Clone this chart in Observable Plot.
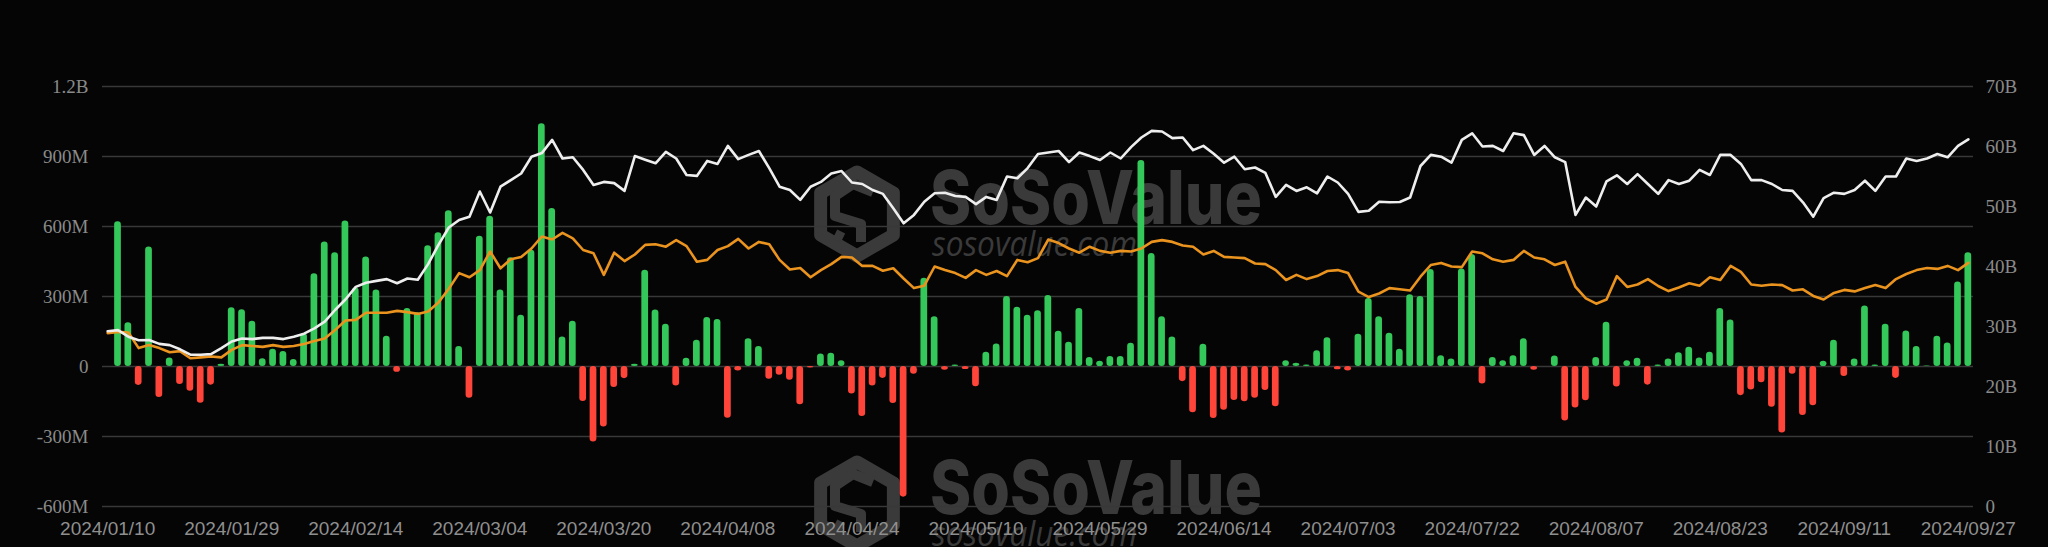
<!DOCTYPE html>
<html><head><meta charset="utf-8">
<script src="https://cdn.jsdelivr.net/npm/d3@7"></script>
<script src="https://cdn.jsdelivr.net/npm/@observablehq/plot@0.6"></script>
<style>
html,body{margin:0;padding:0;background:#050505;}
#wrap{position:relative;width:2048px;height:547px;overflow:hidden;background:#050505;}
#wrap svg{position:absolute;left:0;top:0;overflow:visible;}
</style></head><body><div id="wrap"></div>
<script>
// ---- categories: US trading days 2024/01/10 .. 2024/09/27 ----
const jan = [10,11,12,16,17,18,19,22,23,24,25,26,29,30,31];
const feb = [1,2,5,6,7,8,9,12,13,14,15,16,20,21,22,23,26,27,28,29];
const mar = [1,4,5,6,7,8,11,12,13,14,15,18,19,20,21,22,25,26,27,28];
const apr = [1,2,3,4,5,8,9,10,11,12,15,16,17,18,19,22,23,24,25,26,29,30];
const may = [1,2,3,6,7,8,9,10,13,14,15,16,17,20,21,22,23,24,28,29,30,31];
const jun = [3,4,5,6,7,10,11,12,13,14,17,18,20,21,24,25,26,27,28];
const jul = [1,2,3,5,8,9,10,11,12,15,16,17,18,19,22,23,24,25,26,29,30,31];
const aug = [1,2,5,6,7,8,9,12,13,14,15,16,19,20,21,22,23,26,27,28,29,30];
const sep = [3,4,5,6,9,10,11,12,13,16,17,18,19,20,23,24,25,26,27];
const monthDays = [["01",jan],["02",feb],["03",mar],["04",apr],["05",may],["06",jun],["07",jul],["08",aug],["09",sep]];
const dates = monthDays.flatMap(([m, ds]) => ds.map(d => `2024/${m}/${String(d).padStart(2,"0")}`));

const tickLabels = ["2024/01/10","2024/01/29","2024/02/14","2024/03/04","2024/03/20","2024/04/08","2024/04/24","2024/05/10",
  "2024/05/29","2024/06/14","2024/07/03","2024/07/22","2024/08/07","2024/08/23","2024/09/11","2024/09/27"];
const leftTicks = [-600,-300,0,300,600,900,1200];      // M USD
const rightTicks = [0,10,20,30,40,50,60,70];           // B USD

// Daily total net inflow (M USD)
const netInflow = [
  0,620,188,-81,512,-133,36,-77,-106,-158,-80,10,252,243,194,33,74,64,30,140,
  398,534,488,624,336,469,328,130,-25,249,230,517,573,667,86,-136,558,644,328,466,
  220,498,1040,677,126,194,-150,-324,-259,-90,-52,10,412,242,181,-84,35,112,210,201,
  -222,-19,119,86,-55,-38,-59,-164,-6,54,57,25,-118,-214,-84,-51,-159,-560,-33,378,
  213,-16,6,-13,-87,61,96,300,254,220,239,304,151,104,249,39,22,43,43,100,
  883,484,213,126,-65,-198,95,-223,-188,-146,-151,-136,-103,-173,25,14,6,68,123,-14,
  -19,138,291,213,143,74,307,300,416,46,32,418,480,-75,39,25,46,119,-16,0,
  45,-234,-178,-147,39,190,-88,25,35,-80,6,32,59,83,36,61,249,199,-125,-101,
  -70,-175,-285,-33,-210,-168,22,112,-43,32,259,6,181,-51,152,86,2,130,101,362,
  487
];
// Total net assets (B USD), white line
const totalNetAssets = [
  29.2,29.4,28.3,27.7,27.75,27.1,26.9,26.2,25.3,25.3,25.4,26.4,27.5,28.0,27.9,28.1,28.1,27.9,28.3,28.8,
  29.7,30.8,32.75,34.5,36.6,37.3,37.6,37.9,37.2,38.0,37.8,40.4,43.6,46.5,47.75,48.3,52.5,49.0,53.3,54.4,
  55.5,58.3,58.9,61.1,58.0,58.2,56.1,53.6,54.1,53.9,52.6,58.4,57.8,57.2,59.1,58.0,55.25,55.1,57.6,57.1,
  60.1,57.9,58.6,59.25,56.4,53.3,52.75,51.1,53.3,54.1,55.5,55.9,54.0,53.75,52.75,52.1,49.7,47.2,48.6,50.8,
  52.2,52.3,51.75,51.6,50.4,51.6,51.1,55.0,54.7,56.4,58.75,59.0,59.25,57.4,59.0,58.4,57.75,59.0,58.0,59.9,
  61.5,62.6,62.5,61.4,61.5,59.4,60.1,58.8,57.3,58.3,56.2,56.5,55.6,51.6,53.6,52.6,53.2,52.2,55.0,54.0,
  52.1,49.1,49.3,50.8,50.7,50.75,51.5,56.75,58.6,58.3,57.3,61.1,62.2,60.0,60.1,59.25,62.2,61.9,58.6,60.1,
  58.2,57.4,48.6,51.5,50.0,54.2,55.2,53.75,55.4,53.75,52.1,54.4,53.75,54.3,56.1,55.25,58.6,58.6,57.1,54.4,
  54.4,53.75,52.75,52.6,50.7,48.3,51.4,52.3,52.1,52.75,54.3,52.6,55.0,55.0,58.0,57.6,58.0,58.75,58.2,60.1,
  61.2
];
// Orange series (read on right axis)
const orangeSeries = [
  28.9,29.1,29.0,26.4,26.9,26.4,25.7,25.9,24.7,24.85,25.0,24.85,26.1,26.9,26.75,26.6,26.9,26.6,26.75,27.1,
  27.6,28.0,29.4,31.0,31.1,32.3,32.3,32.3,32.6,32.4,32.1,32.5,34.0,36.3,38.9,38.2,39.4,42.5,39.7,41.2,
  41.6,43.0,45.0,44.5,45.6,44.7,42.75,42.2,38.6,42.3,40.9,42.0,43.6,43.7,43.3,44.4,43.4,40.8,41.1,42.75,
  43.4,44.6,43.0,44.1,43.7,41.1,39.5,39.75,38.2,39.4,40.4,41.6,41.5,40.1,40.1,39.3,39.7,38.0,36.4,36.8,
  40.0,39.4,38.9,38.1,39.4,38.6,39.25,38.4,41.1,40.7,41.4,44.5,43.9,43.0,42.3,43.3,42.6,42.3,42.6,42.5,
  43.0,44.1,44.4,44.1,43.5,43.3,42.0,42.6,41.6,41.5,41.4,40.5,40.4,39.4,37.75,38.6,37.9,38.4,39.25,39.4,
  38.9,35.8,34.9,35.5,36.4,36.2,36.0,38.3,40.25,40.6,40.0,39.9,42.5,42.2,41.2,40.8,41.1,42.6,41.5,41.2,
  40.25,40.8,36.6,34.7,33.8,34.5,38.4,36.6,37.0,37.9,36.75,35.9,36.5,37.2,36.8,38.2,37.75,40.1,39.1,37.0,
  36.8,37.0,36.9,36.0,36.2,35.1,34.5,35.6,36.1,35.85,36.4,36.9,36.4,37.9,38.75,39.4,39.75,39.6,40.1,39.4,
  40.6
];

const rows = dates.map((d, i) => ({date: d, flow: netInflow[i], assets: totalNetAssets[i], orange: orangeSeries[i]}));

const W = 2048, H = 547, mL = 102, mR = 75, mT = 86, mB = 41;
const GREEN = "#34c759", RED = "#ff453a", ORANGE = "#ea941f", WHITE = "#eeeeee", GRID = "#383838", LABEL = "#8a8a8a";
const fmtLeft = v => v === 0 ? "0" : (Math.abs(v) >= 1000 ? (v / 1000) + "B" : v + "M");
const fmtRight = v => v === 0 ? "0" : v + "B";

const base = {width: W, height: H, marginLeft: mL, marginRight: mR, marginTop: mT, marginBottom: mB,
  style: {background: "transparent", color: LABEL, overflow: "visible"},
  x: {type: "band", domain: dates, padding: 0, axis: null, label: null}};

// grid layer
const gridChart = Plot.plot({
  ...base,
  y: {domain: [-600, 1200], axis: null, label: null},
  marks: [Plot.gridY(leftTicks, {stroke: GRID, strokeOpacity: 1, strokeWidth: 1.4})]
});

// bars + left/bottom axes
const barChart = Plot.plot({
  ...base,
  y: {domain: [-600, 1200], axis: null, label: null},
  marks: [
    Plot.axisY(leftTicks, {anchor: "left", tickSize: 0, tickPadding: 14, tickFormat: fmtLeft, label: null,
      fontSize: 19, fontFamily: "Liberation Serif", fill: LABEL}),
    Plot.axisX(tickLabels, {tickSize: 0, tickPadding: 15, label: null, fontSize: 19, fontFamily: "Liberation Sans", fill: "#8f8f8f"}),
    Plot.barY(rows, {x: "date", y: "flow", fill: d => d.flow >= 0 ? GREEN : RED,
      insetLeft: 1.8, insetRight: 1.8, rx: 3.3})
  ]
});

// lines + right axis
const lineChart = Plot.plot({
  ...base,
  y: {domain: [0, 70], axis: null, label: null},
  marks: [
    Plot.axisY(rightTicks, {anchor: "right", tickSize: 0, tickPadding: 12, tickFormat: fmtRight, label: null,
      fontSize: 19, fontFamily: "Liberation Serif", fill: LABEL}),
    Plot.line(rows, {x: "date", y: "orange", stroke: ORANGE, strokeWidth: 2.6, strokeLinejoin: "round"}),
    Plot.line(rows, {x: "date", y: "assets", stroke: WHITE, strokeWidth: 2.6, strokeLinejoin: "round"})
  ]
});

// watermark layer (decorative, drawn beneath the data)
const wm = d3.create("svg").attr("width", W).attr("height", H);
function mark(g, y0) {
  const c = "#3a3a3a";
  const cx = 857, cy = y0 + 47, r = 42;
  const hex = d3.range(6).map(i => { const a = Math.PI / 3 * i - Math.PI / 2; return [cx + r * Math.cos(a), cy + r * Math.sin(a)]; });
  g.append("path").attr("d", "M" + hex.join("L") + "Z").attr("fill", "none").attr("stroke", c).attr("stroke-width", 13).attr("stroke-linejoin", "round");
  g.append("path").attr("d", `M${cx+16},${cy-22} L${cx-4},${cy-30} L${cx-22},${cy-18} L${cx-22},${cy+2} L${cx+4},${cy+10} L${cx+4},${cy+28} M${cx-14},${cy+24} L${cx-22},${cy+20}`)
    .attr("fill", "none").attr("stroke", c).attr("stroke-width", 10).attr("stroke-linejoin", "round");
  g.append("text").attr("x", 930).attr("y", y0 + 57).attr("font-family", "Inter").attr("font-weight", 800)
    .attr("font-size", 74).attr("fill", c).attr("textLength", 332).attr("lengthAdjust", "spacingAndGlyphs").text("SoSoValue");
  g.append("text").attr("x", 932).attr("y", y0 + 89).attr("font-family", "Open Sans").attr("font-style", "italic")
    .attr("font-size", 34).attr("fill", c).attr("textLength", 205).attr("lengthAdjust", "spacingAndGlyphs").text("sosovalue.com");
}
mark(wm.append("g"), 167);
mark(wm.append("g"), 457);

const wrap = document.getElementById("wrap");
wrap.append(wm.node());
wrap.append(gridChart);
wrap.append(barChart);
wrap.append(lineChart);
</script>
</body></html>
